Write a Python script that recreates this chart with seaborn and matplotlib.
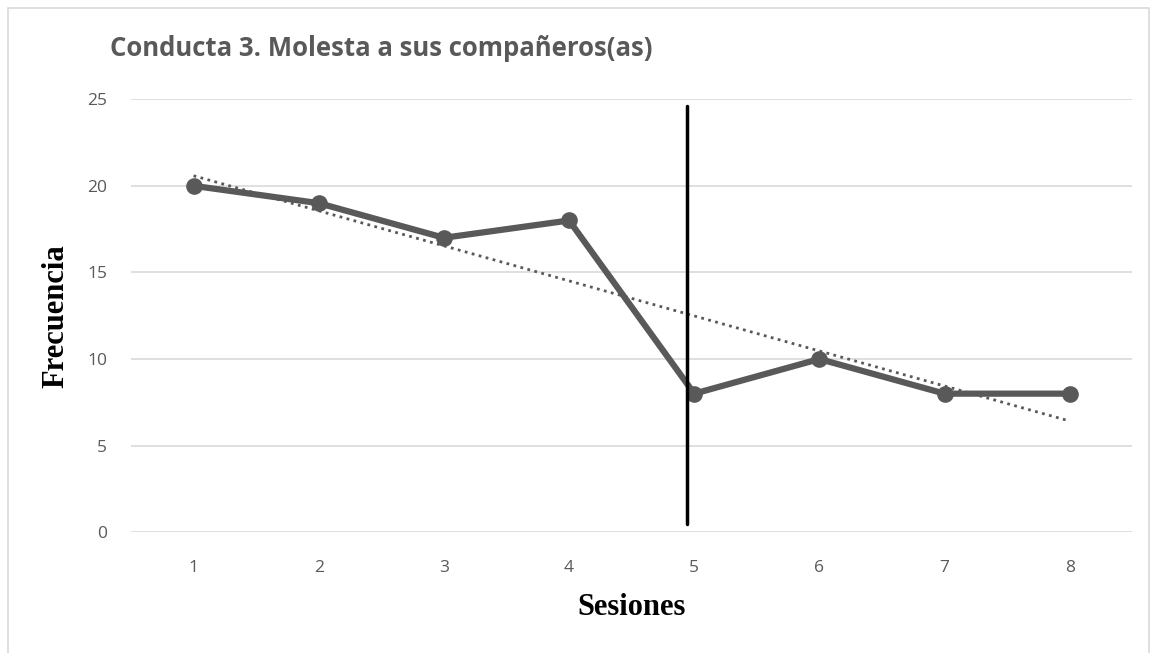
import numpy as np
import pandas as pd
import seaborn as sns
import matplotlib
matplotlib.use("Agg")
import matplotlib.pyplot as plt
from matplotlib.patches import Rectangle

sesiones = [1, 2, 3, 4, 5, 6, 7, 8]
frecuencia = [20, 19, 17, 18, 8, 10, 8, 8]
y_ticks = [0, 5, 10, 15, 20, 25]
title = "Conducta 3. Molesta a sus compañeros(as)"
phase_x = 4.94
phase_y = [0.5, 24.6]

sns.set_theme(style="white")
plt.rcParams['font.family'] = ['Open Sans', 'DejaVu Sans']

df = pd.DataFrame({"Sesiones": sesiones, "Frecuencia": frecuencia})

fig = plt.figure(figsize=(11.59, 6.53), dpi=100)
ax = fig.add_axes([0.113, 0.185, 0.864, 0.663])

# gridlines
for t in y_ticks:
    ax.axhline(t, color="#d9d9d9", lw=1.2, zorder=0)

# trendline (linear fit of the data)
coef = np.polyfit(sesiones, frecuencia, 1)
xs = np.array([sesiones[0], sesiones[-1]])
ax.plot(xs, np.polyval(coef, xs), color="#595959", lw=2, ls=(0, (1, 1.6)), zorder=2)

sns.lineplot(data=df, x="Sesiones", y="Frecuencia", ax=ax, color="#595959",
             lw=4.5, marker="o", markersize=12, markeredgewidth=0, zorder=3)

ax.plot([phase_x, phase_x], phase_y, color="black", lw=2.5, zorder=4)

ax.set_xlim(0.5, 8.5)
ax.set_ylim(0, 25)
ax.set_xticks(sesiones)
ax.set_yticks(y_ticks)
ax.tick_params(axis="both", length=0, labelsize=12.5, labelcolor="#595959")
ax.tick_params(axis="x", pad=20)
ax.tick_params(axis="y", pad=17)
for s in ax.spines.values():
    s.set_visible(False)

ax.set_xlabel("Sesiones", family=["Liberation Serif"], fontweight="bold",
              fontsize=22, color="black", labelpad=12)
ax.set_ylabel("Frecuencia", family=["Liberation Serif"], fontweight="bold",
              fontsize=22, color="black", labelpad=12)

fig.text(110 / 1159, 1 - 48 / 653, title, fontsize=18.5, fontweight="bold",
         color="#595959", va="center", ha="left")

fig.patches.append(Rectangle((8 / 1159, -0.01), 1141 / 1159, 1 - 8 / 653 + 0.01,
                             transform=fig.transFigure, fill=False,
                             edgecolor="#d9d9d9", lw=1.2))

fig.savefig("out.png", dpi=100)
